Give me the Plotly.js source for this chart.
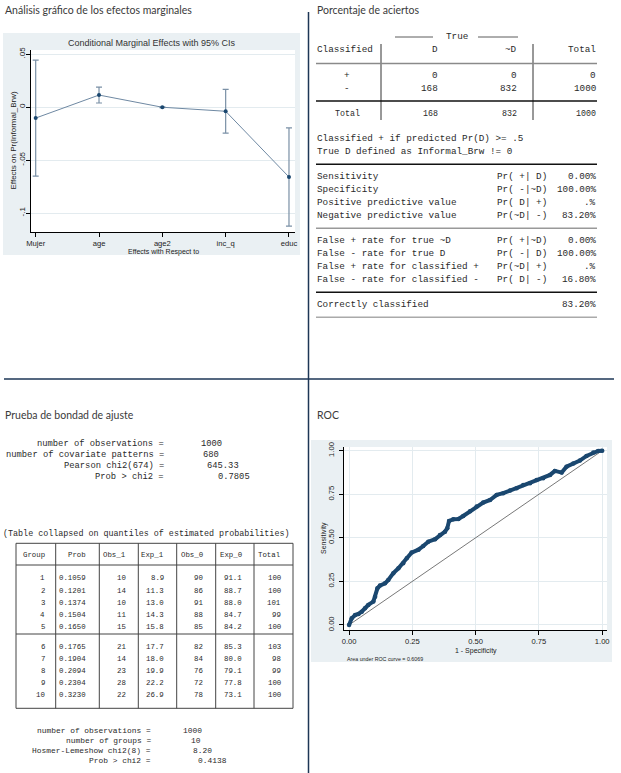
<!DOCTYPE html>
<html><head><meta charset="utf-8">
<script src="https://cdn.plot.ly/plotly-3.0.1.min.js"></script>
<style>html,body{margin:0;padding:0;background:#fff;}#chart{width:621px;height:773px;}</style>
</head><body><div id="chart"></div>
<script>
// ================= DATA =================
// Conditional marginal effects (95% CI)
const meVars   = ['Mujer', 'age', 'age2', 'inc_q', 'educ'];
const meEffect = [-0.0104, 0.0113, -0.0002, -0.0040, -0.0660];
const meLower  = [-0.0651, 0.0038, -0.0005, -0.0247, -0.1123];
const meUpper  = [ 0.0443, 0.0188,  0.0001,  0.0167, -0.0197];
const meTickVals = [-0.1, -0.05, 0, 0.05];
const meTickText = ['-.1', '-.05', '0', '.05'];

// ROC curve (1 - specificity, sensitivity)
const rocFpr = [0, 0.0105, 0.024, 0.037, 0.05, 0.063, 0.076, 0.096, 0.103, 0.112, 0.122, 0.142, 0.155, 0.175, 0.195, 0.214, 0.228, 0.247, 0.274, 0.293, 0.313, 0.34, 0.359, 0.379, 0.388, 0.395, 0.412, 0.432, 0.451, 0.478, 0.504, 0.53, 0.557, 0.583, 0.609, 0.636, 0.662, 0.688, 0.715, 0.741, 0.767, 0.794, 0.813, 0.84, 0.859, 0.886, 0.912, 0.938, 0.965, 0.984, 1.0];
const rocTpr = [0, 0.038, 0.057, 0.063, 0.076, 0.096, 0.115, 0.134, 0.162, 0.21, 0.226, 0.239, 0.258, 0.297, 0.325, 0.354, 0.383, 0.415, 0.432, 0.453, 0.478, 0.492, 0.516, 0.535, 0.555, 0.597, 0.606, 0.608, 0.625, 0.652, 0.679, 0.702, 0.717, 0.746, 0.756, 0.771, 0.784, 0.803, 0.813, 0.832, 0.842, 0.861, 0.884, 0.874, 0.908, 0.927, 0.943, 0.97, 0.989, 0.998, 1.0];
const rocRefX = [0, 1];
const rocRefY = [0, 1];
const rocTickVals = [0, 0.25, 0.5, 0.75, 1];
const rocTickText = ['0.00', '0.25', '0.50', '0.75', '1.00'];
const rocArea = '0.6069';

// Classification table
const clsRowLabels = ['+', '-'];
const clsColLabels = ['D', '~D', 'Total'];
const clsCounts = [[0, 0, 0], [168, 832, 1000]];
const clsTotals = [168, 832, 1000];
const clsNotes = ['Classified + if predicted Pr(D) >= .5', 'True D defined as Informal_Brw != 0'];
const statLabels = ['Sensitivity', 'Specificity', 'Positive predictive value', 'Negative predictive value'];
const statPr     = ['Pr( +| D)', 'Pr( -|~D)', 'Pr( D| +)', 'Pr(~D| -)'];
const statVals   = ['0.00%', '100.00%', '.%', '83.20%'];
const errLabels  = ['False + rate for true ~D', 'False - rate for true D', 'False + rate for classified +', 'False - rate for classified -'];
const errPr      = ['Pr( +|~D)', 'Pr( -| D)', 'Pr(~D| +)', 'Pr( D| -)'];
const errVals    = ['0.00%', '100.00%', '.%', '16.80%'];
const correctLabel = 'Correctly classified';
const correctVal   = '83.20%';

// Goodness of fit
const gofLabels = ['number of observations =', 'number of covariate patterns =', 'Pearson chi2(674) =', 'Prob > chi2 ='];
const gofValues = ['1000', '680', '645.33', '0.7805'];
const hlNote = '(Table collapsed on quantiles of estimated probabilities)';
const hlHeaders = ['Group', 'Prob', 'Obs_1', 'Exp_1', 'Obs_0', 'Exp_0', 'Total'];
const hlGroup = [1, 2, 3, 4, 5, 6, 7, 8, 9, 10];
const hlProb  = ['0.1059', '0.1201', '0.1374', '0.1504', '0.1650', '0.1765', '0.1904', '0.2094', '0.2304', '0.3230'];
const hlObs1  = [10, 14, 10, 11, 15, 21, 14, 23, 28, 22];
const hlExp1  = [8.9, 11.3, 13.0, 14.3, 15.8, 17.7, 18.0, 19.9, 22.2, 26.9];
const hlObs0  = [90, 86, 91, 88, 85, 82, 84, 76, 72, 78];
const hlExp0  = [91.1, 88.7, 88.0, 84.7, 84.2, 85.3, 80.0, 79.1, 77.8, 73.1];
const hlTotal = [100, 100, 101, 99, 100, 103, 98, 99, 100, 100];
const hlLabels = ['number of observations =', 'number of groups =', 'Hosmer-Lemeshow chi2(8) =', 'Prob > chi2 ='];
const hlValues = ['1000', '10', '8.20', '0.4138'];

const panelTitles = ['Análisis gráfico de los efectos marginales', 'Porcentaje de aciertos', 'Prueba de bondad de ajuste', 'ROC'];

// ================= LAYOUT HELPERS =================
const W = 621, H = 773;
const X = p => p / W, Y = p => 1 - p / H;
const MONO = '"Courier New", "Liberation Mono", monospace';
const SANS = '"Liberation Sans", Arial, sans-serif';
const HEAD = 'Lato, "Open Sans", sans-serif';
const NAVY = '#1a476f';
const PANEL = '#eaf0f3';
const GRID = '#e3ebef';
const ann = [], shp = [];
function t(x, y, s, o) {
  o = o || {};
  ann.push({xref: 'paper', yref: 'paper', x: X(x), y: Y(y), text: String(s), showarrow: false,
    xanchor: o.a || 'left', yanchor: 'middle', textangle: o.r || 0, borderpad: 0,
    font: {family: o.f || MONO, size: o.s || 9.3, color: o.c || '#2a2a2a'}});
}
function ln(x0, y0, x1, y1, c, w, layer) {
  shp.push({type: 'line', xref: 'paper', yref: 'paper', x0: X(x0), y0: Y(y0), x1: X(x1), y1: Y(y1),
    line: {color: c, width: w}, layer: layer || 'above'});
}
function rc(x0, y0, x1, y1, fill) {
  shp.push({type: 'rect', xref: 'paper', yref: 'paper', x0: X(x0), y0: Y(y0), x1: X(x1), y1: Y(y1),
    fillcolor: fill, line: {width: 0}, layer: 'below'});
}

// Panel titles + dividers
t(4, 9.5, panelTitles[0], {f: HEAD, s: 10.5, c: '#3a3a3a'});
t(316, 9.5, panelTitles[1], {f: HEAD, s: 10.5, c: '#3a3a3a'});
t(4, 415, panelTitles[2], {f: HEAD, s: 10.5, c: '#3a3a3a'});
t(316, 415, panelTitles[3], {f: HEAD, s: 10.5, c: '#3a3a3a'});
ln(308.5, 12, 308.5, 773, '#1d3656', 1.5);
ln(4, 379, 614, 379, '#1d3656', 1.3);

// ---- Marginal effects panel ----
rc(3, 33, 300, 255, PANEL);
rc(31, 50, 295, 232, '#ffffff');
t(151.5, 42.8, 'Conditional Marginal Effects with 95% CIs', {f: SANS, s: 9, a: 'center', c: '#333'});
t(12.5, 141, 'Effects on Pr(Informal_Brw)', {f: SANS, s: 8, a: 'center', r: -90, c: '#222'});
t(163, 252.3, 'Effects with Respect to', {f: SANS, s: 7, a: 'center', c: '#222'});

// ---- ROC panel ----
rc(311, 440, 612, 662, PANEL);
rc(344, 447, 607, 630, '#ffffff');
t(323.5, 538.5, 'Sensitivity', {f: SANS, s: 7, a: 'center', r: -90, c: '#222'});
t(475.5, 651, '1 - Specificity', {f: SANS, s: 7, a: 'center', c: '#222'});
t(346, 658.8, 'Area under ROC curve = ' + rocArea, {f: SANS, s: 5.3, c: '#222'});

// ---- Classification panel ----
const cR = [439, 518, 597];
t(456.5, 37, 'True', {a: 'center'});
ln(395, 37, 433, 37, '#333', 0.8);
ln(478, 37, 518, 37, '#333', 0.8);
t(316, 50, 'Classified');
clsColLabels.forEach((c, j) => t(cR[j], 50, c, {a: 'right'}));
ln(381, 44, 381, 120, '#333', 1);
ln(533, 44, 533, 120, '#333', 1);
ln(316, 63.5, 597, 63.5, '#8a8a8a', 1.5);
clsRowLabels.forEach((r, i) => {
  const yy = 76 + 12.3 * i;
  t(347, yy, r, {a: 'center'});
  clsCounts[i].forEach((v, j) => t(cR[j], yy, v, {a: 'right'}));
});
ln(316, 101, 597, 101, '#111', 1.5);
t(347, 113.3, 'Total', {a: 'center', s: 8.3});
clsTotals.forEach((v, j) => t(cR[j], 113.3, v, {a: 'right', s: 8.3}));
clsNotes.forEach((s, i) => t(316, 138.3 + 13.4 * i, s));
ln(316, 164.3, 597, 164.3, '#111', 1.5);
statLabels.forEach((s, i) => {
  const yy = 176.7 + 13 * i;
  t(316, yy, s); t(495.5, yy, statPr[i]); t(597, yy, statVals[i], {a: 'right'});
});
ln(316, 228.3, 597, 228.3, '#999', 1.5);
errLabels.forEach((s, i) => {
  const yy = 241 + 12.8 * i;
  t(316, yy, s); t(495.5, yy, errPr[i]); t(597, yy, errVals[i], {a: 'right'});
});
ln(316, 292.3, 597, 292.3, '#111', 1.5);
t(316, 305, correctLabel); t(597, 305, correctVal, {a: 'right'});
ln(316, 317.3, 597, 317.3, '#aaa', 1.5);

// ---- Goodness-of-fit panel ----
const gofValRight = [222.7, 220, 240, 250.7];
gofLabels.forEach((s, i) => {
  const yy = 444 + 10.9 * i;
  t(165, yy, s, {a: 'right', s: 8.8});
  t(gofValRight[i], yy, gofValues[i], {a: 'right', s: 8.8});
});
t(2, 534, hlNote, {s: 8.4});
const hlColRight = [46, 87.3, 126.5, 165, 203.5, 242.7, 281.7];
const hlSep = [55.7, 99.3, 138.3, 176.7, 215.7, 254];
ln(16, 543.3, 293, 543.3, '#444', 1);
ln(16, 708.3, 293, 708.3, '#444', 1);
ln(16, 543.3, 16, 708.3, '#444', 1);
ln(293, 543.3, 293, 708.3, '#444', 1);
hlSep.forEach(x => ln(x, 543.3, x, 708.3, '#444', 1));
ln(16, 565, 293, 565, '#444', 1);
ln(16, 634, 293, 634, '#444', 1);
hlHeaders.forEach((h, j) => t(hlColRight[j], 555, h, {a: 'right', s: 7.4}));
hlGroup.forEach((g, i) => {
  const yy = i < 5 ? 578.3 + 12.25 * i : 647 + 12 * (i - 5);
  const row = [g, hlProb[i], hlObs1[i], hlExp1[i].toFixed(1), hlObs0[i], hlExp0[i].toFixed(1), hlTotal[i]];
  row.forEach((v, j) => t(hlColRight[j], yy, v, {a: 'right', s: 7.4}));
});
const hlValRight = [202.7, 201.7, 213.3, 227.7];
hlLabels.forEach((s, i) => {
  const yy = 730 + 10.1 * i;
  t(151.7, yy, s, {a: 'right', s: 7.9});
  t(hlValRight[i], yy, hlValues[i], {a: 'right', s: 7.9});
});

// ================= TRACES =================
const traces = [
  {x: meVars, y: meEffect, xaxis: 'x', yaxis: 'y', type: 'scatter', mode: 'lines',
   line: {color: '#6f89a3', width: 1}, hoverinfo: 'skip'},
  {x: meVars, y: meEffect, xaxis: 'x', yaxis: 'y', type: 'scatter', mode: 'markers',
   marker: {color: NAVY, size: 4},
   error_y: {type: 'data', symmetric: false,
     array: meUpper.map((u, i) => u - meEffect[i]),
     arrayminus: meEffect.map((e, i) => e - meLower[i]),
     color: '#7a90a6', thickness: 1.2, width: 3}},
  {x: rocRefX, y: rocRefY, xaxis: 'x2', yaxis: 'y2', type: 'scatter', mode: 'lines',
   line: {color: '#555', width: 0.8}},
  {x: rocFpr, y: rocTpr, xaxis: 'x2', yaxis: 'y2', type: 'scatter', mode: 'lines+markers',
   line: {color: NAVY, width: 4}, marker: {color: NAVY, size: 4.5}}
];

const axBase = {showline: true, linecolor: '#000', linewidth: 1, ticks: 'outside', ticklen: 4,
  tickcolor: '#000', zeroline: false, fixedrange: true,
  tickfont: {family: SANS, size: 8, color: '#222'}};

const layout = {
  width: W, height: H, autosize: false,
  margin: {l: 0, r: 0, t: 0, b: 0, pad: 0},
  paper_bgcolor: '#ffffff', plot_bgcolor: 'rgba(0,0,0,0)',
  showlegend: false, hovermode: false,
  xaxis: Object.assign({}, axBase, {domain: [X(31), X(295)], anchor: 'y', type: 'category',
    range: [-0.074, 4.095], showgrid: false, ticklen: 3.5,
    tickfont: {family: SANS, size: 7.6, color: '#222'}}),
  yaxis: Object.assign({}, axBase, {domain: [Y(232), Y(50)], anchor: 'x',
    range: [-0.1179, 0.0538], tickvals: meTickVals, ticktext: meTickText, tickangle: -90,
    ticklabelstandoff: -2,
    showgrid: true, gridcolor: GRID, gridwidth: 1}),
  xaxis2: Object.assign({}, axBase, {domain: [X(344), X(607)], anchor: 'y2',
    range: [-0.02, 1.019], tickvals: rocTickVals, ticktext: rocTickText, ticklen: 3.5,
    tickfont: {family: SANS, size: 7.6, color: '#222'},
    showgrid: true, gridcolor: GRID, gridwidth: 1}),
  yaxis2: Object.assign({}, axBase, {domain: [Y(630), Y(447)], anchor: 'x2',
    range: [-0.029, 1.021], tickvals: rocTickVals, ticktext: rocTickText, tickangle: -90,
    ticklabelstandoff: 2, tickfont: {family: SANS, size: 7.6, color: '#222'},
    showgrid: true, gridcolor: GRID, gridwidth: 1}),
  annotations: ann,
  shapes: shp
};

Plotly.newPlot('chart', traces, layout, {staticPlot: true, displayModeBar: false});
</script>
</body></html>
